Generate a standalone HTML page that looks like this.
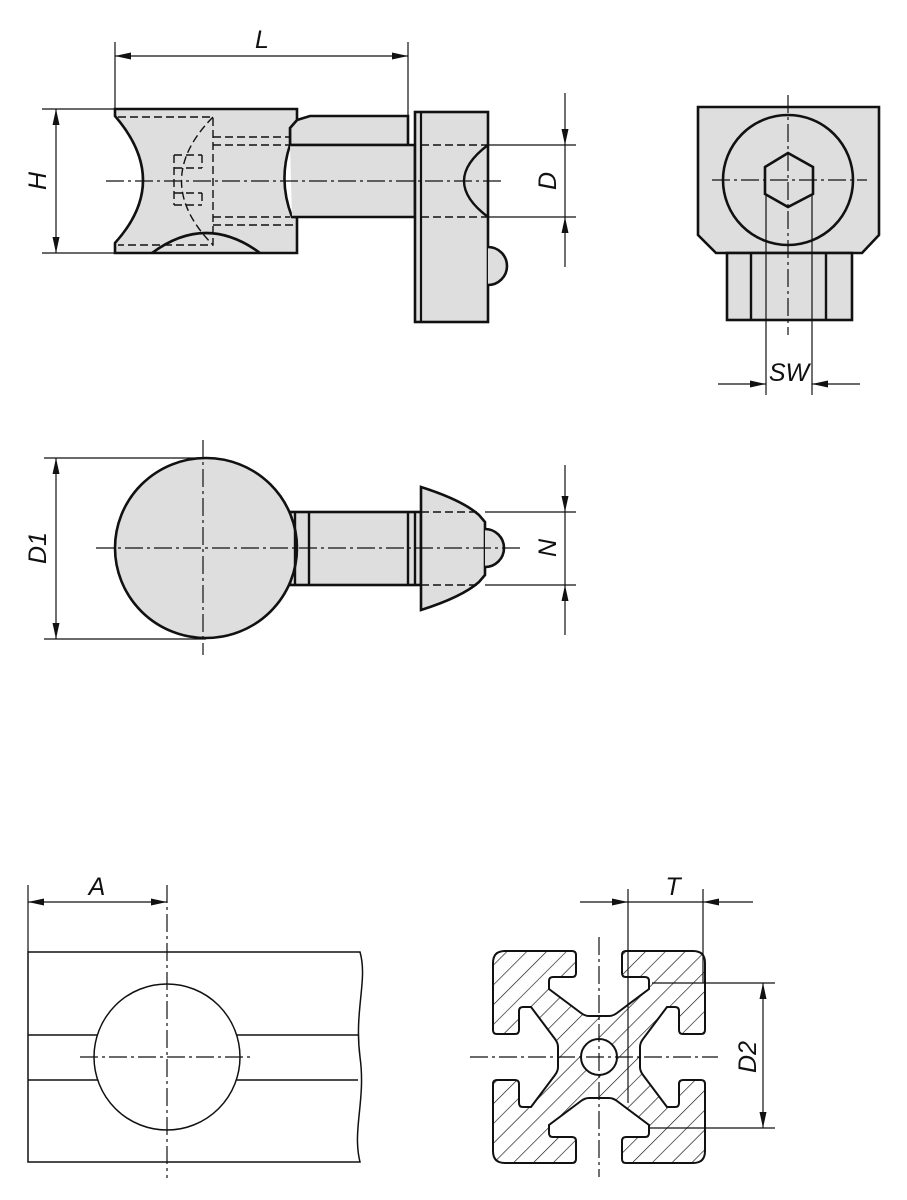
<!DOCTYPE html>
<html><head><meta charset="utf-8"><style>
html,body{margin:0;padding:0;background:#fff;}
svg{display:block}
text{font-family:"Liberation Sans",sans-serif;font-style:italic;font-size:25px;fill:#111}
</style></head><body>
<svg width="907" height="1200" viewBox="0 0 907 1200" xmlns="http://www.w3.org/2000/svg">
<defs>
<marker id="ar" markerUnits="userSpaceOnUse" markerWidth="18" markerHeight="8" refX="16" refY="3.5" orient="auto-start-reverse"><path d="M0 0 L16 3.5 L0 7 z" fill="#111"/></marker>
<pattern id="h" patternUnits="userSpaceOnUse" width="14" height="14" patternTransform="rotate(45)"><line x1="0" y1="0" x2="0" y2="14" stroke="#111" stroke-width="1.3"/></pattern>
<path id="f" d="M-94 -106 L-27 -106 Q-23 -106 -23 -102 L-23 -84 Q-23 -80 -27 -80 L-46 -80 Q-50 -80 -50 -76 L-50 -68 L-18 -44 Q-14 -41 -10 -41 L10 -41 Q14 -41 18 -44 L50 -68 L50 -76 Q50 -80 46 -80 L27 -80 Q23 -80 23 -84 L23 -102 Q23 -106 27 -106 L94 -106 Q106 -106 106 -94"/>
<path id="w" d="M0 0 L-94 -106 L-27 -106 Q-23 -106 -23 -102 L-23 -84 Q-23 -80 -27 -80 L-46 -80 Q-50 -80 -50 -76 L-50 -68 L-18 -44 Q-14 -41 -10 -41 L10 -41 Q14 -41 18 -44 L50 -68 L50 -76 Q50 -80 46 -80 L27 -80 Q23 -80 23 -84 L23 -102 Q23 -106 27 -106 L94 -106 Q106 -106 106 -94 Z"/>
<clipPath id="pc"><use href="#w"/><use href="#w" transform="rotate(90)"/><use href="#w" transform="rotate(180)"/><use href="#w" transform="rotate(270)"/></clipPath>
</defs>

<g fill="none" stroke="#111">
<!-- ===== TOP VIEW ===== -->
<g stroke-width="2.6" fill="#dedede">
<path d="M297 120 L310 116 L408 116 L408 145 L290 145 L290 128 Z"/>
<path d="M115 109 L297 109 L297 120 L290 128 L290 145 Q278 181 292 217 L297 217 L297 253 L115 253 L115 243 Q171 181 115 116 Z"/>
<path d="M290 145 L415 145 L415 217 L292 217" />
<rect x="415" y="112" width="73" height="210"/>
<path d="M488 247 A19 19 0 0 1 488 285"/>
<path d="M152 253 Q206 213 260 253" fill="none"/>
</g>
<line x1="421" y1="112" x2="421" y2="322" stroke-width="2.2"/>
<path d="M488 145 Q440 181 488 217" stroke-width="2.4"/>
<g stroke-width="1.4" stroke-dasharray="8 4">
<path d="M118 117 L213 117 L213 245 L118 245"/>
<path d="M213 137 L290 137 M213 145 L290 145 M213 217 L290 217 M213 225 L297 225"/>
<path d="M213 117 Q150 181 213 245"/>
<path d="M174 155 L202 155 M174 168 L202 168 M174 193 L202 193 M174 205 L202 205 M174 155 L174 205 M202 155 L202 168 M202 193 L202 205"/>
<path d="M421 145 L488 145 M421 217 L488 217"/>
</g>
<line x1="106" y1="181" x2="501" y2="181" stroke-width="1.2" stroke-dasharray="18 4 3 4"/>
<g stroke-width="1.2">
<line x1="115" y1="42" x2="115" y2="109"/><line x1="408" y1="42" x2="408" y2="116"/>
<line x1="115" y1="56" x2="408" y2="56" marker-start="url(#ar)" marker-end="url(#ar)"/>
<line x1="42" y1="109" x2="115" y2="109"/><line x1="42" y1="253" x2="115" y2="253"/>
<line x1="56" y1="109" x2="56" y2="253" marker-start="url(#ar)" marker-end="url(#ar)"/>
<line x1="488" y1="145" x2="576" y2="145"/><line x1="488" y1="217" x2="576" y2="217"/>
<line x1="565" y1="93" x2="565" y2="145" marker-end="url(#ar)"/>
<line x1="565" y1="267" x2="565" y2="217" marker-end="url(#ar)"/>
<line x1="565" y1="145" x2="565" y2="217"/>
</g>

<!-- ===== RIGHT VIEW ===== -->
<g stroke-width="2.6" fill="#dedede">
<path d="M698 107 L879 107 L879 235 L862 253 L716 253 L698 235 Z"/>
<rect x="727" y="253" width="125" height="67"/>
</g>
<line x1="751" y1="253" x2="751" y2="320" stroke-width="2.4"/>
<line x1="826" y1="253" x2="826" y2="320" stroke-width="2.4"/>
<circle cx="788" cy="180" r="65" stroke-width="2.6"/>
<path d="M788 153 L813 167 L813 194 L788 207 L765 194 L765 167 Z" stroke-width="2.6"/>
<line x1="788" y1="95" x2="788" y2="335" stroke-width="1.2" stroke-dasharray="18 4 3 4"/>
<line x1="712" y1="180" x2="867" y2="180" stroke-width="1.2" stroke-dasharray="18 4 3 4"/>
<g stroke-width="1.2">
<line x1="766" y1="194" x2="766" y2="395"/><line x1="812" y1="194" x2="812" y2="395"/>
<line x1="718" y1="384" x2="766" y2="384" marker-end="url(#ar)"/>
<line x1="860" y1="384" x2="812" y2="384" marker-end="url(#ar)"/>
</g>

<!-- ===== MIDDLE VIEW ===== -->
<g stroke-width="2.6" fill="#dedede">
<rect x="290" y="512" width="131" height="73"/>
<path d="M421 487 Q462 500 479 515 L485 522 L485 575 L479 582 Q462 597 421 610 Z"/>
<path d="M485 529 A19 19 0 0 1 485 567"/>
<ellipse cx="206" cy="548" rx="91" ry="90"/>
</g>
<g stroke-width="2.4">
<line x1="295" y1="512" x2="295" y2="585"/><line x1="309" y1="512" x2="309" y2="585"/>
<line x1="408" y1="512" x2="408" y2="585"/><line x1="415" y1="512" x2="415" y2="585"/>
</g>
<path d="M421 512 L479 512 M421 585 L479 585" stroke-width="1.4" stroke-dasharray="8 4"/>
<line x1="203" y1="440" x2="203" y2="655" stroke-width="1.2" stroke-dasharray="18 4 3 4"/>
<line x1="96" y1="548" x2="520" y2="548" stroke-width="1.2" stroke-dasharray="18 4 3 4"/>
<g stroke-width="1.2">
<line x1="44" y1="458" x2="206" y2="458"/><line x1="44" y1="639" x2="206" y2="639"/>
<line x1="56" y1="458" x2="56" y2="639" marker-start="url(#ar)" marker-end="url(#ar)"/>
<line x1="485" y1="512" x2="576" y2="512"/><line x1="485" y1="585" x2="576" y2="585"/>
<line x1="565" y1="465" x2="565" y2="512" marker-end="url(#ar)"/>
<line x1="565" y1="635" x2="565" y2="585" marker-end="url(#ar)"/>
<line x1="565" y1="512" x2="565" y2="585"/>
</g>

<!-- ===== RAIL ===== -->
<g stroke-width="1.5">
<path d="M28 952 L360 952 C368 980 354 1010 360 1057 C366 1100 352 1130 360 1162 L28 1162 Z"/>
<line x1="28" y1="1035" x2="358" y2="1035"/><line x1="28" y1="1080" x2="358" y2="1080"/>
<circle cx="167" cy="1057" r="73" fill="#fff"/>
</g>
<line x1="167" y1="885" x2="167" y2="1178" stroke-width="1.2" stroke-dasharray="18 4 3 4"/>
<line x1="80" y1="1057" x2="250" y2="1057" stroke-width="1.2" stroke-dasharray="18 4 3 4"/>
<g stroke-width="1.2">
<line x1="28" y1="885" x2="28" y2="952"/>
<line x1="28" y1="902" x2="167" y2="902" marker-start="url(#ar)" marker-end="url(#ar)"/>
</g>

<!-- ===== PROFILE ===== -->
<g transform="translate(599,1057)">
<rect x="-110" y="-110" width="220" height="220" fill="url(#h)" stroke="none" clip-path="url(#pc)"/>
<g stroke-width="2">
<use href="#f"/><use href="#f" transform="rotate(90)"/><use href="#f" transform="rotate(180)"/><use href="#f" transform="rotate(270)"/>
</g>
<circle cx="0" cy="0" r="18" fill="#fff" stroke-width="2"/>
</g>
<line x1="599" y1="937" x2="599" y2="1177" stroke-width="1.2" stroke-dasharray="18 4 3 4"/>
<line x1="470" y1="1057" x2="718" y2="1057" stroke-width="1.2" stroke-dasharray="18 4 3 4"/>
<g stroke-width="1.2">
<line x1="628" y1="889" x2="628" y2="1103"/><line x1="703" y1="889" x2="703" y2="983"/>
<line x1="580" y1="902" x2="628" y2="902" marker-end="url(#ar)"/>
<line x1="753" y1="902" x2="703" y2="902" marker-end="url(#ar)"/>
<line x1="628" y1="902" x2="703" y2="902"/>
<line x1="652" y1="983" x2="775" y2="983"/><line x1="650" y1="1128" x2="775" y2="1128"/>
<line x1="763" y1="983" x2="763" y2="1128" marker-start="url(#ar)" marker-end="url(#ar)"/>
</g>
</g>

<!-- labels -->
<text x="262" y="48" text-anchor="middle">L</text>
<text transform="translate(46,181) rotate(-90)" text-anchor="middle">H</text>
<text transform="translate(556,181) rotate(-90)" text-anchor="middle">D</text>
<text x="789" y="381" text-anchor="middle">SW</text>
<text transform="translate(46,548) rotate(-90)" text-anchor="middle">D1</text>
<text transform="translate(556,548) rotate(-90)" text-anchor="middle">N</text>
<text x="97" y="895" text-anchor="middle">A</text>
<text x="673" y="895" text-anchor="middle">T</text>
<text transform="translate(756,1057) rotate(-90)" text-anchor="middle">D2</text>
</svg>
</body></html>
